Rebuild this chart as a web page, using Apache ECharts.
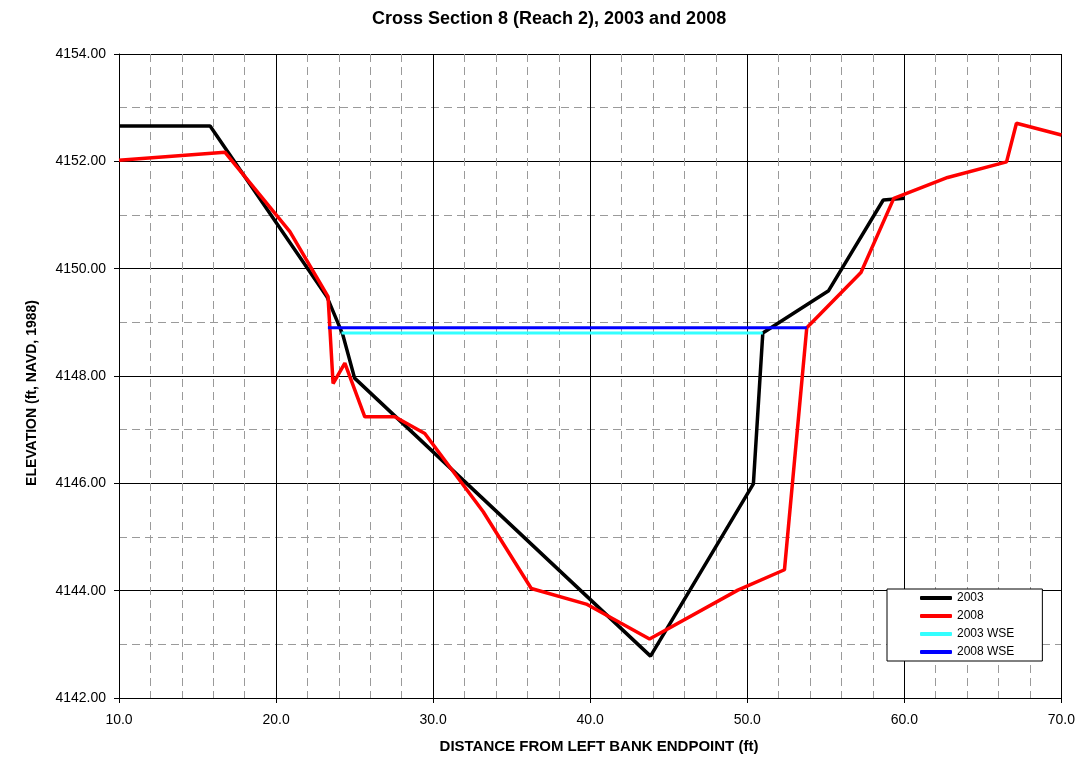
<!DOCTYPE html>
<html><head><meta charset="utf-8">
<script src="https://cdn.jsdelivr.net/npm/echarts@6/dist/echarts.min.js"></script>
<style>html,body{margin:0;padding:0;background:#fff}#c{width:1078px;height:760px}</style>
</head><body><div id="c"></div>
<script>
// ---- data ----
const x2003 = [10.0, 15.8, 23.25, 24.25, 25.0, 43.84, 50.39, 50.99, 55.18, 58.66, 60.0];
const y2003 = [4152.66, 4152.66, 4149.47, 4148.77, 4147.96, 4142.78, 4145.99, 4148.80, 4149.59, 4151.28, 4151.31];
const x2008 = [10.0, 16.74, 20.88, 23.31, 23.63, 24.38, 25.65, 27.56, 29.47, 33.19, 36.25, 39.75, 43.78, 49.40, 52.37, 53.79, 57.24, 59.33, 62.76, 66.51, 67.14, 70.0];
const y2008 = [4152.02, 4152.17, 4150.69, 4149.48, 4147.86, 4148.24, 4147.24, 4147.24, 4146.93, 4145.47, 4144.04, 4143.75, 4143.10, 4144.01, 4144.39, 4148.90, 4149.93, 4151.31, 4151.70, 4151.99, 4152.71, 4152.49];
const xWse2003 = [24.17, 50.99];
const yWse2003 = [4148.80, 4148.80];
const xWse2008 = [23.30, 53.79];
const yWse2008 = [4148.90, 4148.90];
const seriesNames = ['2003', '2008', '2003 WSE', '2008 WSE'];
const xTicks = [10, 20, 30, 40, 50, 60, 70];
const yTicks = [4142, 4144, 4146, 4148, 4150, 4152, 4154];
const titleText = 'Cross Section 8 (Reach 2), 2003 and 2008';
const xName = 'DISTANCE FROM LEFT BANK ENDPOINT (ft)';
const yName = 'ELEVATION (ft, NAVD, 1988)';

const pairs = (xs, ys) => xs.map((x, i) => [x, ys[i]]);
const FONT = 'Arial, "Liberation Sans", sans-serif';

const chart = echarts.init(document.getElementById('c'), null, {renderer: 'canvas'});
const minorLine = {show: true, lineStyle: {color: '#9a9a9a', width: 1, type: [8, 5]}};
chart.setOption({
  animation: false,
  backgroundColor: '#fff',
  graphic: [
    {type: 'text', left: 549 - 177, top: 10, style: {text: titleText, font: 'bold 18px ' + FONT, fill: '#000'}},
    {type: 'text', x: 599, y: 747, style: {text: xName, font: 'bold 15px ' + FONT, fill: '#000', align: 'center', verticalAlign: 'middle'}},
    {type: 'text', x: 32, y: 393, rotation: Math.PI / 2, style: {text: yName, font: 'bold 14px ' + FONT, fill: '#000', align: 'center', verticalAlign: 'middle'}}
  ],
  grid: {left: 119, right: 16, top: 54, bottom: 62, containLabel: false},
  legend: {
    orient: 'vertical', left: 887, top: 589,
    padding: [3, 28, 3, 33],
    icon: 'roundRect',
    itemWidth: 32, itemHeight: 4, itemGap: 6,
    backgroundColor: '#fff', borderColor: '#000', borderWidth: 1, borderRadius: 0,
    textStyle: {fontFamily: FONT, fontSize: 12, color: '#000'},
    data: seriesNames
  },
  xAxis: {
    type: 'value', min: xTicks[0], max: xTicks[xTicks.length - 1], interval: 10,
    axisLine: {show: true, onZero: false, lineStyle: {color: '#000', width: 1}},
    axisTick: {show: true, inside: false, length: 5, lineStyle: {color: '#000'}},
    axisLabel: {fontFamily: FONT, fontSize: 14, color: '#000', margin: 15, formatter: v => v.toFixed(1)},
    splitLine: {show: true, lineStyle: {color: '#000', width: 1}},
    minorTick: {show: false, splitNumber: 5},
    minorSplitLine: minorLine
  },
  yAxis: {
    type: 'value', min: yTicks[0], max: yTicks[yTicks.length - 1], interval: 2,
    axisLine: {show: true, onZero: false, lineStyle: {color: '#000', width: 1}},
    axisTick: {show: true, inside: false, length: 5, lineStyle: {color: '#000'}},
    axisLabel: {fontFamily: FONT, fontSize: 14, color: '#000', margin: 13, formatter: v => v.toFixed(2)},
    splitLine: {show: true, lineStyle: {color: '#000', width: 1}},
    minorTick: {show: false, splitNumber: 2},
    minorSplitLine: minorLine
  },
  series: [
    {name: seriesNames[0], type: 'line', data: pairs(x2003, y2003), showSymbol: false, symbol: 'none',
     color: '#000000', lineStyle: {width: 3.5, color: '#000000'}, z: 3},
    {name: seriesNames[1], type: 'line', data: pairs(x2008, y2008), showSymbol: false, symbol: 'none',
     color: '#ff0000', lineStyle: {width: 3.5, color: '#ff0000'}, z: 4},
    {name: seriesNames[2], type: 'line', data: pairs(xWse2003, yWse2003), showSymbol: false, symbol: 'none',
     color: '#33ffff', lineStyle: {width: 3, color: '#33ffff'}, z: 5},
    {name: seriesNames[3], type: 'line', data: pairs(xWse2008, yWse2008), showSymbol: false, symbol: 'none',
     color: '#0000ff', lineStyle: {width: 3, color: '#0000ff'}, z: 6}
  ]
});
</script>
</body></html>
